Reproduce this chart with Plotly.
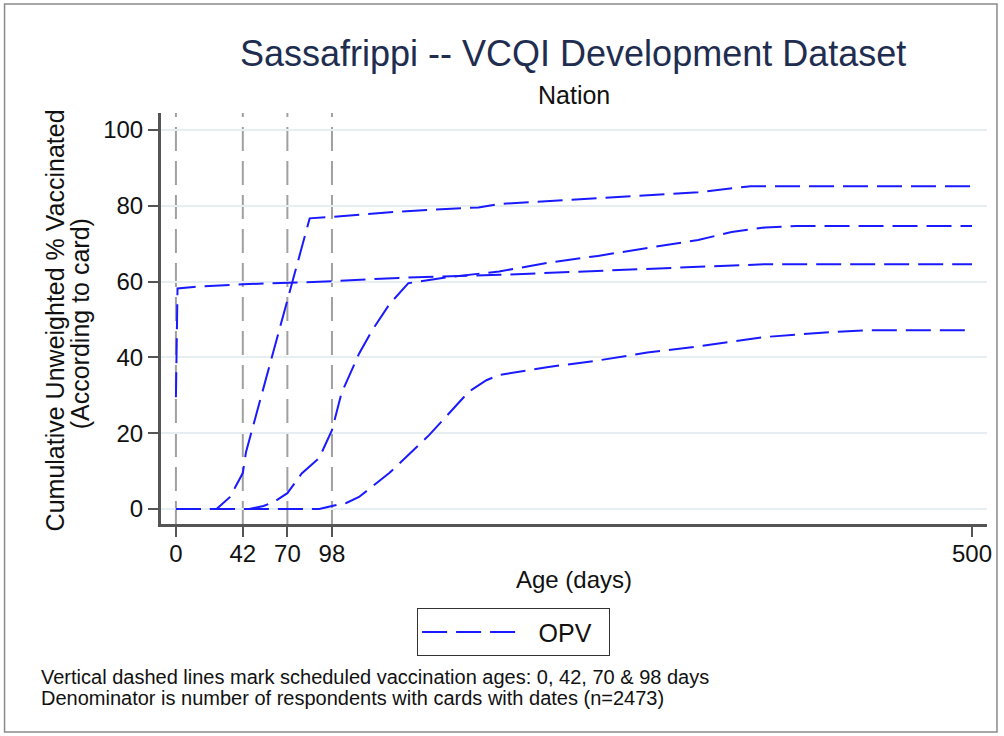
import plotly.graph_objects as go

# ---- data ----
opv0_days = [0, 1, 11, 42, 98, 140, 203, 265, 328, 370, 500]
opv0_vals = [29.5, 58.2, 58.6, 59.3, 60.1, 61.0, 61.8, 62.9, 63.9, 64.6, 64.6]

opv1_days = [0, 25.5, 34, 42, 44, 84, 98, 140, 190, 203, 265, 328, 361, 500]
opv1_vals = [0, 0, 3.2, 9.5, 15.0, 76.7, 77.1, 78.5, 79.6, 80.5, 82.0, 83.6, 85.2, 85.2]

opv2_days = [0, 46, 55, 62, 70, 79, 90, 98, 104, 115, 123, 134, 146, 171, 203, 234, 265, 296, 328, 349, 370, 390, 500]
opv2_vals = [0, 0, 0.8, 2.0, 4.2, 9.4, 13.5, 20.8, 30.6, 41.0, 47.0, 54.0, 59.6, 61.2, 62.7, 65.0, 66.8, 68.9, 71.0, 73.1, 74.3, 74.7, 74.7]

opv3_days = [0, 90, 98, 107, 115, 134, 159, 184, 195, 203, 234, 265, 296, 328, 370, 411, 436, 500]
opv3_vals = [0, 0, 0.8, 1.6, 3.2, 9.5, 19.5, 31.0, 34.0, 35.4, 37.5, 39.2, 41.3, 42.9, 45.4, 46.7, 47.2, 47.2]

series_days = [opv0_days, opv1_days, opv2_days, opv3_days]
series_vals = [opv0_vals, opv1_vals, opv2_vals, opv3_vals]
legend_label = "OPV"

schedule_days = [0, 42, 70, 98]
x_ticks = [0, 42, 70, 98, 500]
y_ticks = [0, 20, 40, 60, 80, 100]

title = "Sassafrippi -- VCQI Development Dataset"
subtitle = "Nation"
y_title_1 = "Cumulative Unweighted % Vaccinated"
y_title_2 = "(According to card)"
x_title = "Age (days)"
notes = ["Vertical dashed lines mark scheduled vaccination ages: 0, 42, 70 & 98 days",
         "Denominator is number of respondents with cards with dates (n=2473)"]

FONT = "Liberation Sans, Arial, sans-serif"
W, H = 1004, 736
L, R, T, B = 160, 14, 113, 211
PW, PH = W - L - R, H - T - B
AXIS_COLOR = "#555555"


def px_to_paper_x(px):
    return (px - L) / PW


def px_to_paper_y(py):
    return (H - B - py) / PH


fig = go.Figure()
for i, (d, v) in enumerate(zip(series_days, series_vals)):
    fig.add_trace(go.Scatter(
        x=d, y=v, mode="lines", name="\u2002" + legend_label + "\u2002",
        legendgroup="opv", showlegend=(i == 0),
        line=dict(color="#1a1aff", width=2, dash="25px,9px"),
        hoverinfo="skip",
    ))

for d in schedule_days:
    fig.add_shape(type="line", xref="x", yref="paper", x0=d, x1=d, y0=0, y1=1,
                  line=dict(color="#a0a0a0", width=2, dash="24px,10px"), layer="below")

# axis lines (explicit)
fig.add_shape(type="line", xref="paper", yref="paper", x0=0, x1=1, y0=0, y1=0,
              line=dict(color=AXIS_COLOR, width=2))
fig.add_shape(type="line", xref="paper", yref="paper", x0=0, x1=0, y0=0, y1=1,
              line=dict(color=AXIS_COLOR, width=2))

# outer frame
fig.add_shape(type="rect", xref="paper", yref="paper",
              x0=px_to_paper_x(4), x1=px_to_paper_x(1000),
              y0=px_to_paper_y(732), y1=px_to_paper_y(4),
              line=dict(color="#8a8a8a", width=1.5))

ann = [
    dict(text=title, x=px_to_paper_x(574), y=px_to_paper_y(53), font=dict(size=36, color="#1e2d50")),
    dict(text=subtitle, x=px_to_paper_x(575), y=px_to_paper_y(95), font=dict(size=25, color="#111")),
    dict(text=y_title_1, x=px_to_paper_x(55), y=px_to_paper_y(320), textangle=-90, font=dict(size=25, color="#111")),
    dict(text=y_title_2, x=px_to_paper_x(80), y=px_to_paper_y(324), textangle=-90, font=dict(size=25, color="#111")),
    dict(text=x_title, x=px_to_paper_x(575), y=px_to_paper_y(579), font=dict(size=24, color="#111")),
]
for a in ann:
    a.update(xref="paper", yref="paper", showarrow=False, xanchor="center", yanchor="middle")
    fig.add_annotation(**a)

for k, t in enumerate(notes):
    fig.add_annotation(text=t, xref="paper", yref="paper", x=px_to_paper_x(39), y=px_to_paper_y(677 + 20.5 * k),
                       xanchor="left", yanchor="middle", showarrow=False, font=dict(size=20, color="#111"))

fig.update_layout(
    width=W, height=H,
    margin=dict(l=L, r=R, t=T, b=B, pad=0),
    paper_bgcolor="white", plot_bgcolor="white",
    font=dict(family=FONT, color="#111"),
    showlegend=True,
    legend=dict(x=px_to_paper_x(418), y=px_to_paper_y(608), xanchor="left", yanchor="top",
                orientation="h", bordercolor="#333", borderwidth=1.2, bgcolor="white",
                font=dict(size=25, color="#111"), itemwidth=99),
    xaxis=dict(range=[-10, 509.4], tickmode="array", tickvals=x_ticks, ticktext=[str(v) for v in x_ticks],
               showgrid=False, zeroline=False, showline=True, linecolor=AXIS_COLOR, linewidth=2,
               ticks="outside", ticklen=10, tickwidth=2, tickcolor=AXIS_COLOR, ticklabelstandoff=-4,
               tickfont=dict(size=24, color="#111")),
    yaxis=dict(range=[-4.2, 104.5], tickmode="array", tickvals=y_ticks,
               showgrid=True, gridcolor="#e6eef2", gridwidth=1.5, zeroline=False,
               showline=True, linecolor=AXIS_COLOR, linewidth=2,
               ticks="outside", ticklen=10, tickwidth=2, tickcolor=AXIS_COLOR,
               tickfont=dict(size=24, color="#111")),
)

fig.write_html("out.html", config={"displayModeBar": False},
               post_script="document.body.style.margin='0px';")
